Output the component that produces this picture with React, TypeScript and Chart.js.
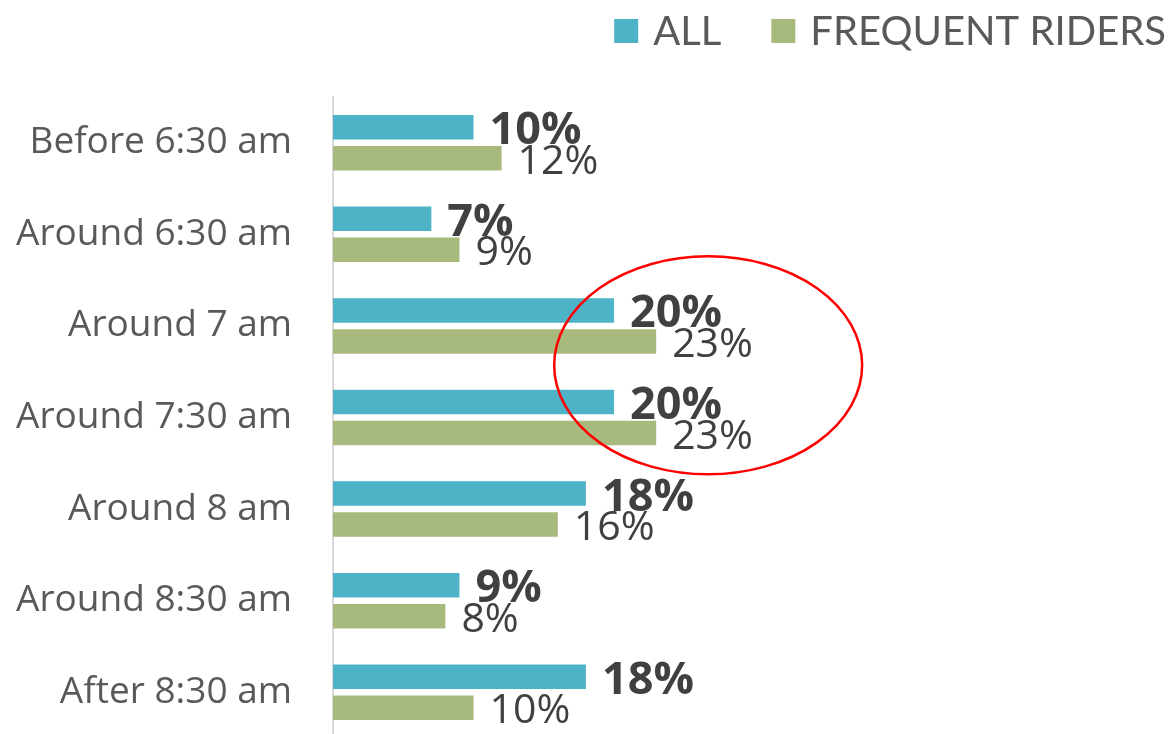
import { useEffect, useRef } from 'react';
import { Chart, registerables } from 'chart.js';

Chart.register(...registerables);

const categories = [
  'Before 6:30 am',
  'Around 6:30 am',
  'Around 7 am',
  'Around 7:30 am',
  'Around 8 am',
  'Around 8:30 am',
  'After 8:30 am',
];
const allValues = [10, 7, 20, 20, 18, 9, 18];
const frequentValues = [12, 9, 23, 23, 16, 8, 10];
const seriesNames = ['ALL', 'FREQUENT RIDERS'];
const seriesColors = ['#4FB3C8', '#A8B97E'];

// highlight ellipse expressed in scale units (x: percent, y: category index)
const highlight = { xValue: 26.7, index: 2.43, rxValue: 10.96, ryIndex: 1.19 };

const W = 1172;
const H = 738;

const labelPlugin = {
  id: 'barLabels',
  afterDatasetsDraw(chart: any) {
    const ctx = chart.ctx;
    chart.data.datasets.forEach((ds: any, di: number) => {
      const meta = chart.getDatasetMeta(di);
      const bold = di === 0;
      const size = bold ? 45 : 41;
      ctx.save();
      ctx.font = `${bold ? 'bold ' : ''}${size}px "Open Sans"`;
      ctx.fillStyle = '#404040';
      ctx.textAlign = 'left';
      ctx.textBaseline = 'alphabetic';
      meta.data.forEach((bar: any, i: number) => {
        ctx.fillText(`${ds.data[i]}%`, bar.x + 16, bar.y + size * 0.357 + 1);
      });
      ctx.restore();
    });
  },
};

const ellipsePlugin = {
  id: 'highlightEllipse',
  afterDraw(chart: any) {
    const ctx = chart.ctx;
    const xs = chart.scales.x;
    const ys = chart.scales.y;
    const cx = xs.getPixelForValue(highlight.xValue);
    const cy = ys.getPixelForValue(highlight.index);
    const rx = xs.getPixelForValue(highlight.xValue + highlight.rxValue) - cx;
    const ry = ys.getPixelForValue(highlight.index + highlight.ryIndex) - cy;
    ctx.save();
    ctx.beginPath();
    ctx.ellipse(cx, cy, rx, ry, 0, 0, Math.PI * 2);
    ctx.strokeStyle = '#FF0000';
    ctx.lineWidth = 2.5;
    ctx.stroke();
    ctx.restore();
  },
};

const legendPlugin = {
  id: 'customLegend',
  afterDraw(chart: any) {
    const ctx = chart.ctx;
    const box = 24;
    const gapText = 15;
    const gapItem = 50;
    const rightEdge = 1166;
    const centerY = 31;
    const size = 40;
    ctx.save();
    ctx.font = `${size}px Lato`;
    ctx.textBaseline = 'alphabetic';
    ctx.textAlign = 'left';
    const items = chart.data.datasets.map((ds: any) => ({
      text: ds.label,
      color: ds.backgroundColor,
      w: ctx.measureText(ds.label).width,
    }));
    let total = 0;
    items.forEach((it: any, i: number) => {
      total += box + gapText + it.w + (i > 0 ? gapItem : 0);
    });
    let x = rightEdge - total;
    items.forEach((it: any) => {
      ctx.fillStyle = it.color;
      ctx.fillRect(x, centerY - box / 2, box, box);
      ctx.fillStyle = '#595959';
      ctx.fillText(it.text, x + box + gapText, centerY + size * 0.36);
      x += box + gapText + it.w + gapItem;
    });
    ctx.restore();
  },
};

export default function App() {
  const ref = useRef<HTMLCanvasElement | null>(null);

  useEffect(() => {
    document.body.style.margin = '0';
    if (!ref.current) return;
    const chart = new Chart(ref.current, {
      type: 'bar',
      data: {
        labels: categories,
        datasets: [
          {
            label: seriesNames[0],
            data: allValues,
            backgroundColor: seriesColors[0],
            barPercentage: 0.79,
            categoryPercentage: 0.677,
          },
          {
            label: seriesNames[1],
            data: frequentValues,
            backgroundColor: seriesColors[1],
            barPercentage: 0.79,
            categoryPercentage: 0.677,
          },
        ],
      },
      options: {
        indexAxis: 'y',
        responsive: false,
        maintainAspectRatio: false,
        animation: false,
        layout: { padding: { top: 97, right: 10, left: 0, bottom: 0 } },
        plugins: {
          legend: { display: false },
          tooltip: { enabled: false },
        },
        scales: {
          x: { display: false, min: 0, max: 59 },
          y: {
            grid: { display: false, drawTicks: false },
            border: { display: true, color: '#D9D9D9', width: 2 },
            ticks: {
              color: '#595959',
              padding: 41,
              font: { family: '"Open Sans"', size: 37 },
            },
            afterFit(scale: any) {
              scale.width = 333;
              scale.paddingTop = 0;
              scale.paddingBottom = 0;
            },
          },
        },
      },
      plugins: [labelPlugin, ellipsePlugin, legendPlugin],
    });
    return () => chart.destroy();
  }, []);

  return (
    <div style={{ width: W, height: 734, overflow: 'hidden', background: '#fff' }}>
      <canvas ref={ref} width={W} height={H} style={{ display: 'block' }} />
    </div>
  );
}
